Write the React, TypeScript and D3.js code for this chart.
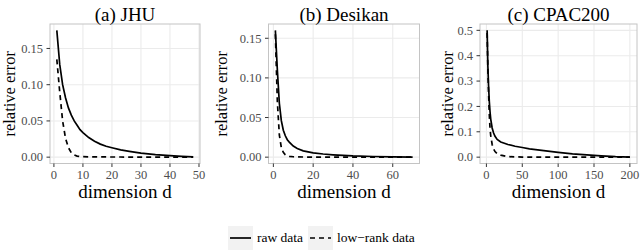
import React from 'react';
import * as d3 from 'd3';

// dimension d and relative error
const jhuDims = [1, 2, 3, 4, 5, 6, 7, 8, 9, 10, 12, 14, 16, 18, 20, 23, 26, 30, 35, 40, 44, 48];
const jhuRaw = [0.175, 0.128, 0.1, 0.082, 0.068, 0.058, 0.05, 0.044, 0.038, 0.034, 0.027, 0.022, 0.018, 0.015, 0.013, 0.01, 0.008, 0.0055, 0.0035, 0.002, 0.001, 0.0003];
const jhuLow = [0.135, 0.09, 0.05, 0.026, 0.013, 0.006, 0.003, 0.0015, 0.001, 0.0008, 0.0005, 0.0004, 0.0003, 0.0003, 0.0002, 0.0002, 0.0001, 0.0001, 0.0001, 0, 0, 0];

const desDims = [1, 2, 3, 4, 5, 6, 7, 8, 10, 12, 15, 20, 25, 30, 40, 50, 60, 70];
const desRaw = [0.16, 0.11, 0.068, 0.046, 0.034, 0.027, 0.022, 0.019, 0.014, 0.011, 0.008, 0.0055, 0.004, 0.003, 0.0015, 0.0008, 0.0003, 0.0001];
const desLow = [0.155, 0.07, 0.028, 0.012, 0.006, 0.003, 0.0015, 0.001, 0.0005, 0.0003, 0.0002, 0.0001, 0.0001, 0, 0, 0, 0, 0];

const cpacDims = [1, 2, 3, 4, 5, 6, 8, 10, 12, 15, 20, 30, 40, 50, 60, 80, 100, 120, 140, 160, 180, 200];
const cpacRaw = [0.5, 0.36, 0.28, 0.22, 0.18, 0.15, 0.115, 0.095, 0.082, 0.07, 0.06, 0.05, 0.043, 0.038, 0.033, 0.026, 0.019, 0.013, 0.009, 0.005, 0.002, 0.0003];
const cpacLow = [0.49, 0.35, 0.25, 0.17, 0.115, 0.085, 0.05, 0.032, 0.022, 0.014, 0.008, 0.002, 0.001, 0.0005, 0.0003, 0.0001, 0, 0, 0, 0, 0, 0];

const panelTitles = ['(a) JHU', '(b) Desikan', '(c) CPAC200'];
const jhuXTicks = [0, 10, 20, 30, 40, 50];
const desXTicks = [0, 20, 40, 60];
const cpacXTicks = [0, 50, 100, 150, 200];
const smallYTicks = [0, 0.05, 0.1, 0.15];
const cpacYTicks = [0, 0.1, 0.2, 0.3, 0.4, 0.5];
const legendLabels = ['raw data', 'low\u2212rank data'];

const FONT = '"Liberation Serif", "Times New Roman", serif';
const TOP = 24;
const BOTTOM = 163.5;

const panels = [
  { title: panelTitles[0], dims: jhuDims, raw: jhuRaw, low: jhuLow, xTicks: jhuXTicks, yTicks: smallYTicks, fmt: '.2f', left: 50, right: 200, yTitleX: 15 },
  { title: panelTitles[1], dims: desDims, raw: desRaw, low: desLow, xTicks: desXTicks, yTicks: smallYTicks, fmt: '.2f', left: 268.5, right: 419.5, yTitleX: 227 },
  { title: panelTitles[2], dims: cpacDims, raw: cpacRaw, low: cpacLow, xTicks: cpacXTicks, yTicks: cpacYTicks, fmt: '.1f', left: 480, right: 637, yTitleX: 453 },
];

// ggplot style 5% expansion
const expand = ([a, b]: number[]) => {
  const pad = (b - a) * 0.05;
  return [a - pad, b + pad];
};

const Panel = ({ p }: { p: any }) => {
  const xExt = d3.extent(p.dims) as number[];
  const yExt = [0, d3.max([...p.raw, ...p.low]) as number];
  const x = d3.scaleLinear().domain(expand(xExt)).range([p.left, p.right]);
  const y = d3.scaleLinear().domain(expand(yExt)).range([BOTTOM, TOP]);
  const fmt = d3.format(p.fmt);

  const line = d3
    .line<number>()
    .x((_, i) => x(p.dims[i]))
    .y((v) => y(v));

  const cx = (p.left + p.right) / 2;
  const cy = (TOP + BOTTOM) / 2;

  return (
    <g>
      <rect x={p.left} y={TOP} width={p.right - p.left} height={BOTTOM - TOP} fill="#fff" />
      {p.xTicks.map((t: number) => (
        <line key={'gx' + t} x1={x(t)} x2={x(t)} y1={TOP} y2={BOTTOM} stroke="#ebebeb" strokeWidth={1.1} />
      ))}
      {p.yTicks.map((t: number) => (
        <line key={'gy' + t} x1={p.left} x2={p.right} y1={y(t)} y2={y(t)} stroke="#ebebeb" strokeWidth={1.1} />
      ))}
      <path d={line(p.low) || ''} fill="none" stroke="#000" strokeWidth={1.7} strokeDasharray="5,4" />
      <path d={line(p.raw) || ''} fill="none" stroke="#000" strokeWidth={1.7} />
      <rect x={p.left} y={TOP} width={p.right - p.left} height={BOTTOM - TOP} fill="none" stroke="#c4c4c4" strokeWidth={1} />

      {p.xTicks.map((t: number) => (
        <g key={'xt' + t}>
          <line x1={x(t)} x2={x(t)} y1={BOTTOM} y2={BOTTOM + 3.5} stroke="#333" strokeWidth={1} />
          <text x={x(t)} y={178.5} textAnchor="middle" fontSize={12.5} fill="#4d4d4d" fontFamily={FONT}>{t}</text>
        </g>
      ))}
      {p.yTicks.map((t: number) => (
        <g key={'yt' + t}>
          <line x1={p.left - 3.5} x2={p.left} y1={y(t)} y2={y(t)} stroke="#333" strokeWidth={1} />
          <text x={p.left - 7} y={y(t) + 4.3} textAnchor="end" fontSize={12.5} fill="#4d4d4d" fontFamily={FONT}>{fmt(t)}</text>
        </g>
      ))}

      <text x={cx} y={20.5} textAnchor="middle" fontSize={19} fontFamily={FONT}>{p.title}</text>
      <text x={cx} y={198} textAnchor="middle" fontSize={19} fontFamily={FONT}>dimension d</text>
      <text transform={`translate(${p.yTitleX},${cy}) rotate(-90)`} textAnchor="middle" fontSize={16.5} fontFamily={FONT}>relative error</text>
    </g>
  );
};

export default function App() {
  return (
    <svg width={640} height={251} viewBox="0 0 640 251" style={{ position: 'absolute', left: 0, top: 0, background: '#fff' }}>
      {panels.map((p) => (
        <Panel key={p.title} p={p} />
      ))}
      {/* legend */}
      <g>
        <rect x={228} y={226} width={25} height={24} fill="#f2f2f2" />
        <line x1={230} x2={251} y1={238} y2={238} stroke="#000" strokeWidth={1.7} />
        <text x={257} y={242} fontSize={13.5} fontFamily={FONT}>{legendLabels[0]}</text>
        <rect x={308} y={226} width={25} height={24} fill="#f2f2f2" />
        <line x1={310} x2={331} y1={238} y2={238} stroke="#000" strokeWidth={1.7} strokeDasharray="5,4" />
        <text x={337} y={242} fontSize={13.5} fontFamily={FONT}>{legendLabels[1]}</text>
      </g>
    </svg>
  );
}
